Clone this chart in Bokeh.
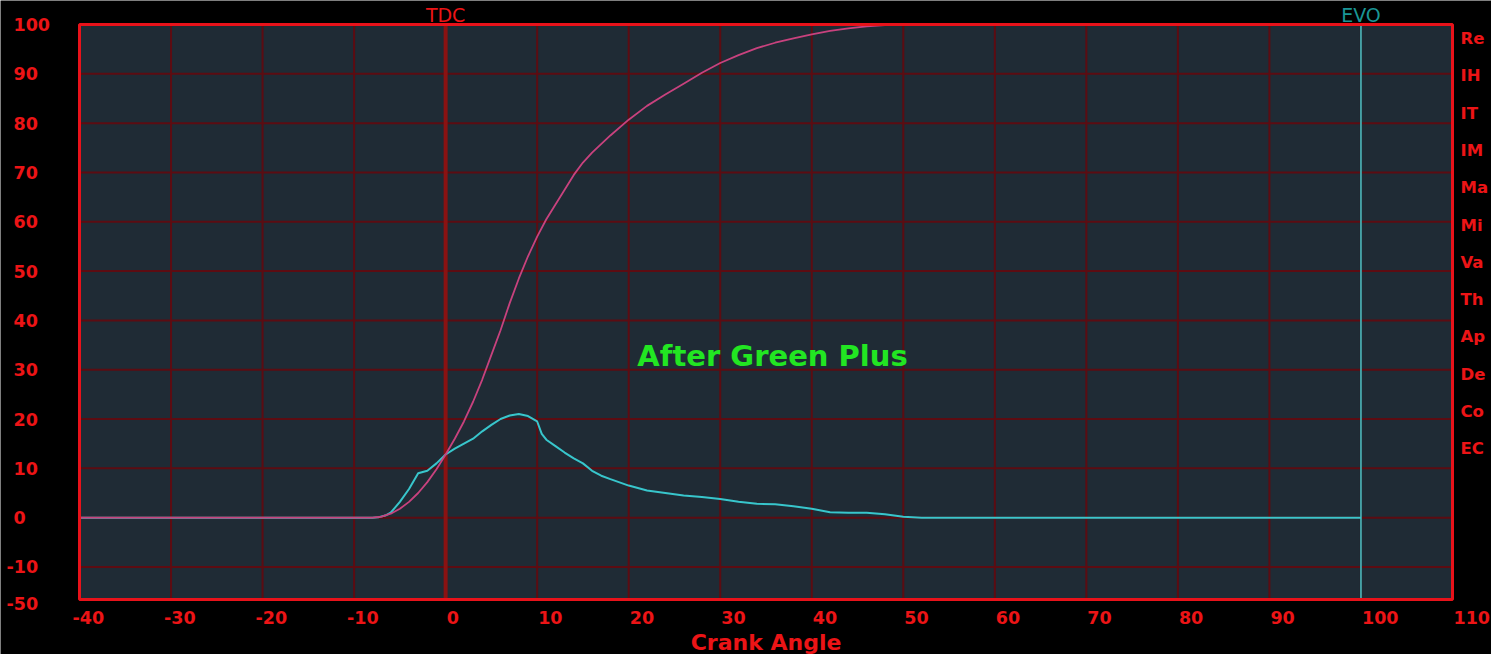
from bokeh.plotting import figure
from bokeh.models import Range1d
from bokeh.core.properties import value
from bokeh.embed import file_html
from bokeh.resources import INLINE

# ---------------- data ----------------
crank_angle_mfb = [-40, -8, -7, -6, -5, -4, -3, -2, -1,
                   0, 1, 2, 3, 4, 5, 6, 7, 8, 9, 10, 11, 12, 13, 14, 15, 16,
                   18, 20, 22, 24, 26, 28, 30, 32, 34, 36, 38, 40, 42, 44, 46, 48, 50,
                   100]
mass_fraction_burned = [0, 0, 0.2, 0.8, 1.8, 3.2, 5, 7.2, 9.8,
                        12.8, 16, 19.5, 23.5, 28, 33, 38, 43.5, 48.5, 53, 57, 60.5, 63.5, 66.5, 69.5, 72, 74,
                        77.5, 80.7, 83.5, 85.8, 88, 90.2, 92.2, 93.8, 95.2, 96.3, 97.2, 98, 98.7, 99.2, 99.6, 99.9, 100,
                        100]

crank_angle_hrr = [-40, -8, -7.3, -6.5, -6, -5, -4, -3, -2, -1,
                   0, 1, 2, 3, 4, 5, 6, 7, 8, 9, 10,
                   10.5,
                   11, 12, 13, 14, 15, 16, 17, 18,
                   20, 22, 24, 26, 28, 30, 32, 34, 36, 38, 40, 42, 44, 46, 48, 50, 52,
                   100]
heat_release_rate = [0, 0, 0.1, 0.5, 1, 3.2, 5.8, 9, 9.5, 11,
                     12.8, 14, 15, 16, 17.5, 18.8, 20, 20.7, 21, 20.6, 19.5,
                     17,
                     15.8, 14.5, 13.2, 12, 11, 9.5, 8.5, 7.8,
                     6.5, 5.5, 5, 4.5, 4.2, 3.8, 3.2, 2.8, 2.7, 2.3, 1.8, 1.1, 1.0, 1.0, 0.7, 0.2, 0,
                     0]

x_tick_values = [-40, -30, -20, -10, 0, 10, 20, 30, 40, 50, 60, 70, 80, 90, 100, 110]
x_tick_labels = ["-40", "-30", "-20", "-10", "0", "10", "20", "30", "40", "50",
                 "60", "70", "80", "90", "100", "110"]
Y_MIN, Y_MAX = -16.6, 100
y_tick_values = [100, 90, 80, 70, 60, 50, 40, 30, 20, 10, 0, -10, Y_MIN]
y_tick_labels = ["100", "90", "80", "70", "60", "50", "40", "30", "20", "10", "0", "-10", "-50"]
y_grid_values = [90, 80, 70, 60, 50, 40, 30, 20, 10, 0, -10]

legend_labels = ["Re", "IH", "IT", "IM", "Ma", "Mi", "Va", "Th", "Ap", "De", "Co", "EC"]

TDC_ANGLE = 0
EVO_ANGLE = 100
X_MIN, X_MAX = -40, 110

# ---------------- layout (canvas pixels) ----------------
W, H = 1491, 654
FL, FT = 79, 24           # plotting box left / top
FW, FH = 1373, 575        # plotting box width / height
PPX = FW / (X_MAX - X_MIN)
PPY = FH / (Y_MAX - Y_MIN)

def dx(px):
    return X_MIN + (px - FL) / PPX

def dy(py):
    return Y_MAX - (py - FT) / PPY

RED = "#ec1416"
FONT = value("DejaVu Sans")

p = figure(width=W, height=H, output_backend="svg", toolbar_location=None,
           x_range=Range1d(dx(0), dx(W)), y_range=Range1d(dy(H), dy(0)),
           min_border=0, min_border_left=0, min_border_right=0,
           min_border_top=0, min_border_bottom=0)
p.background_fill_color = "#000000"
p.border_fill_color = "#000000"
p.outline_line_color = None
p.xaxis.visible = False
p.yaxis.visible = False
p.xgrid.visible = False
p.ygrid.visible = False

# plotting box
p.quad(left=[X_MIN], right=[X_MAX], bottom=[Y_MIN], top=[Y_MAX],
       fill_color="#1f2b35", line_color=None)

# grid
p.segment(x0=x_tick_values, x1=x_tick_values,
          y0=[Y_MIN] * len(x_tick_values), y1=[Y_MAX] * len(x_tick_values),
          line_color="#5c0c12", line_width=2)
p.segment(x0=[X_MIN] * len(y_grid_values), x1=[X_MAX] * len(y_grid_values),
          y0=y_grid_values, y1=y_grid_values,
          line_color="#5c0c12", line_width=2)

# TDC / EVO markers
p.segment(x0=[TDC_ANGLE], x1=[TDC_ANGLE], y0=[Y_MIN], y1=[Y_MAX],
          line_color="#8a1212", line_width=4)
p.segment(x0=[EVO_ANGLE], x1=[EVO_ANGLE], y0=[Y_MIN], y1=[Y_MAX],
          line_color="#3ccbd0", line_width=1.5)

# curves
p.line(crank_angle_hrr, heat_release_rate, line_color="#38c6cc", line_width=2)
p.line(crank_angle_mfb, mass_fraction_burned, line_color="#c8427e", line_width=1.8)

# box border
p.quad(left=[X_MIN], right=[X_MAX], bottom=[Y_MIN], top=[Y_MAX],
       fill_color=None, line_color="#e8121a", line_width=3)

# x tick labels (left aligned at tick, minus sign hangs left)
xs = [t + ((-7 if t < 0 else 1) / PPX) for t in x_tick_values]
p.text(x=xs, y=[dy(617)] * len(xs), text=x_tick_labels,
       text_align="left", text_baseline="middle", text_color=RED,
       text_font=FONT, text_font_style="bold", text_font_size="17.5px")

# y tick labels
ys = [v if v != Y_MIN else dy(FT + FH + 4) for v in y_tick_values]
yx = [dx(6) if lab.startswith("-") else dx(13) for lab in y_tick_labels]
p.text(x=yx, y=ys, text=y_tick_labels,
       text_align="left", text_baseline="middle", text_color=RED,
       text_font=FONT, text_font_style="bold", text_font_size="17.5px")

# right-hand labels
ly = [dy(38 + i * 37.3) for i in range(len(legend_labels))]
p.text(x=[dx(FL + FW + 8)] * len(ly), y=ly, text=legend_labels,
       text_align="left", text_baseline="middle", text_color=RED,
       text_font=FONT, text_font_style="bold", text_font_size="16.5px")

p.text(x=[TDC_ANGLE], y=[dy(14)], text=["TDC"], text_align="center",
       text_baseline="middle", text_color=RED, text_font=FONT,
       text_font_size="19px")
p.text(x=[EVO_ANGLE], y=[dy(14)], text=["EVO"], text_align="center",
       text_baseline="middle", text_color="#1a9696", text_font=FONT,
       text_font_size="19px")

p.text(x=[(X_MIN + X_MAX) / 2], y=[dy(642)], text=["Crank Angle"], text_align="center",
       text_baseline="middle", text_color=RED, text_font=FONT,
       text_font_style="bold", text_font_size="22px")

p.text(x=[dx(772)], y=[dy(355)], text=["After Green Plus"], text_align="center",
       text_baseline="middle", text_color="#22e622", text_font=FONT,
       text_font_style="bold", text_font_size="29px")

open("out.html", "w").write(file_html(p, INLINE))
